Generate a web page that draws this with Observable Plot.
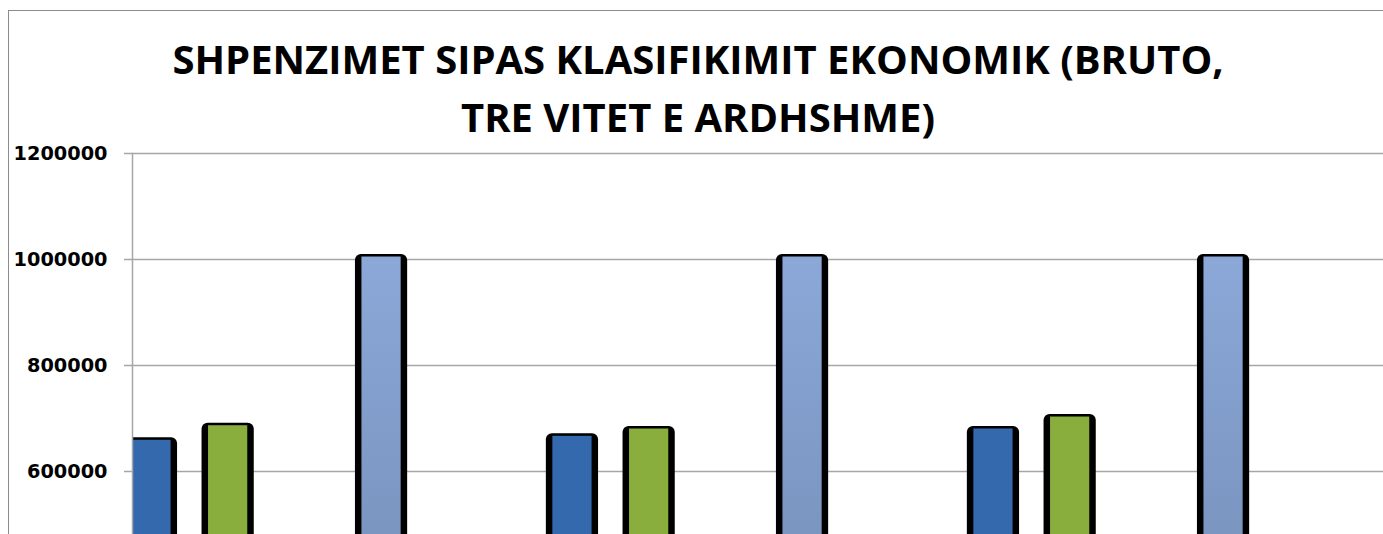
<!DOCTYPE html>
<html>
<head>
<meta charset="utf-8">
<script src="https://cdn.jsdelivr.net/npm/d3@7"></script>
<script src="https://cdn.jsdelivr.net/npm/@observablehq/plot@0.6"></script>
<style>
  html, body { margin: 0; padding: 0; overflow: hidden; background: #fff; }
  #wrap { position: relative; width: 1383px; height: 534px; overflow: hidden; }
  #border { position: absolute; left: 8px; top: 10px; width: 1380px; height: 900px; border: 1.5px solid #8c8c8c; box-sizing: border-box; }
  #chart { position: absolute; left: 0; top: 0; }
  #title { position: absolute; left: 8px; top: 29.5px; width: 1380px; text-align: center;
           font-family: "Open Sans", sans-serif; font-weight: 700; font-size: 40px; line-height: 58px; color: #000; }
</style>
</head>
<body>
<div id="wrap">
  <div id="border"></div>
  <div id="chart"></div>
  <div id="title">SHPENZIMET SIPAS KLASIFIKIMIT EKONOMIK (BRUTO,<br>TRE VITET E ARDHSHME)</div>
</div>
<script>
// Categories (their labels lie below the visible crop)
const groups = ["Viti 1", "Viti 2", "Viti 3"];
// Series
const series = ["Seria 1", "Seria 2", "Seria 3", "Seria 4"];
const seriesColors = ["#3469ae", "#89ae3d", "#c0504d", "url(#lightBlueGrad)"];
// Values
const values1 = [663600, 671100, 684900];
const values2 = [691100, 684900, 707500];
const values3 = [300000, 300000, 300000]; // bar lies below the visible crop; estimate
const values4 = [1009400, 1009400, 1009400];
const seriesValues = [values1, values2, values3, values4];
// Y tick labels
const yTicks = [0, 200000, 400000, 600000, 800000, 1000000, 1200000];

const rows = [];
groups.forEach((g, gi) => series.forEach((s, si) => rows.push({group: g, series: s, value: seriesValues[si][gi]})));

// layout of the cluster inside each category band
const xRange = [112.35, 1262.55];
const padInner = 0.2725;
const step = (xRange[1] - xRange[0]) / (groups.length - padInner);
const bandwidth = step * (1 - padInner);
const slot = bandwidth / series.length;
const outerW = 53, innerW = 40;

const barMarks = [];
series.forEach((s, si) => {
  const sub = rows.filter(d => d.series === s);
  const c = slot * (si + 0.5);
  barMarks.push(Plot.barY(sub, {
    x: "group", y: "value", fill: "#000", rx: 6,
    insetLeft: c - outerW / 2, insetRight: bandwidth - c - outerW / 2, clip: true
  }));
  barMarks.push(Plot.barY(sub, {
    x: "group", y: "value", fill: seriesColors[si], insetTop: 2.5,
    insetLeft: c - innerW / 2, insetRight: bandwidth - c - innerW / 2, clip: true
  }));
});

const svg = Plot.plot({
  width: 1383,
  height: 800,
  marginTop: 153,
  marginBottom: 11,
  marginLeft: 132,
  marginRight: 0,
  style: {background: "transparent", overflow: "visible"},
  x: {domain: groups, range: xRange, paddingInner: padInner, paddingOuter: 0, axis: null},
  y: {domain: [0, 1200000], axis: null},
  marks: [
    Plot.gridY(yTicks, {stroke: "#a6a6a6", strokeOpacity: 1, strokeWidth: 1.5}),
    Plot.axisY(yTicks, {
      tickSize: 8, tickPadding: 17, stroke: "#a6a6a6", strokeWidth: 1.5, strokeOpacity: 1,
      tickFormat: d => String(d), fontSize: 19.3, fontWeight: "bold",
      fontFamily: "DejaVu Sans", fill: "#000", label: null
    }),
    ...barMarks,
    Plot.frame({anchor: "left", stroke: "#a6a6a6", strokeWidth: 1.5, strokeOpacity: 1})
  ]
});

const defs = d3.select(svg).insert("defs", ":first-child");
const grad = defs.append("linearGradient").attr("id", "lightBlueGrad")
  .attr("x1", 0).attr("y1", 0).attr("x2", 0).attr("y2", 1);
grad.append("stop").attr("offset", 0).attr("stop-color", "#8ba8d8");
grad.append("stop").attr("offset", 1).attr("stop-color", "#6c84ab");

document.getElementById("chart").appendChild(svg);
</script>
</body>
</html>
